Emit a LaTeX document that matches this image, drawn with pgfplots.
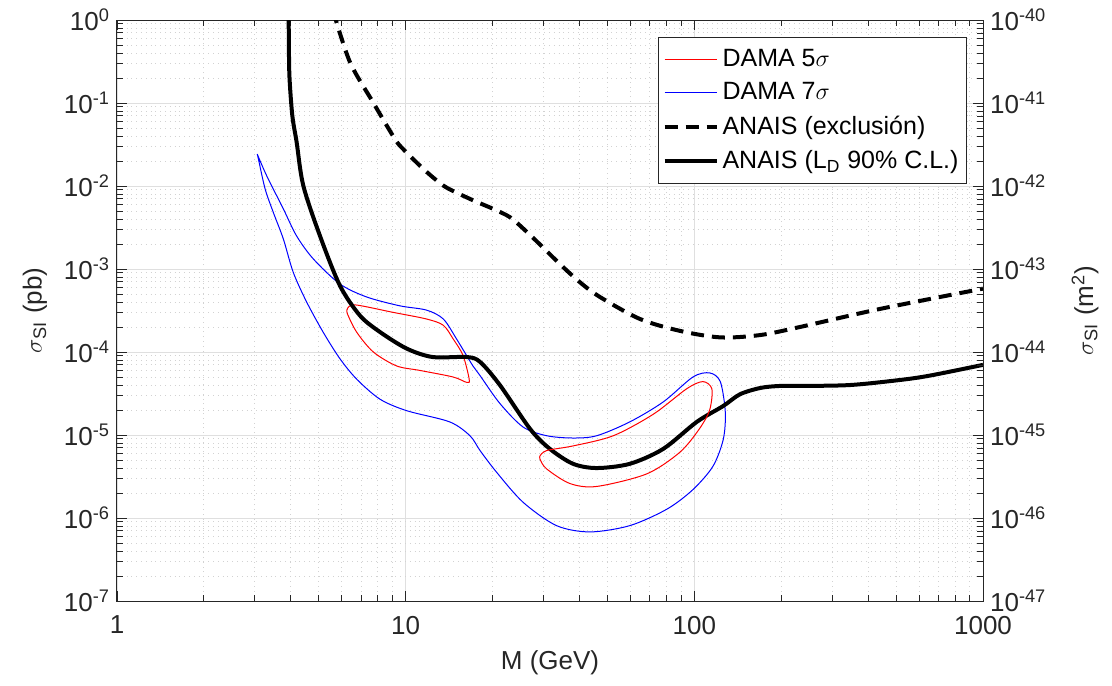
\documentclass[border=0pt]{standalone}
\usepackage{pgfplots}
\pgfplotsset{compat=1.18}
\usepackage{fontspec}
\setmainfont{Liberation Sans}
\definecolor{axgray}{RGB}{38,38,38}
\begin{document}
\begin{tikzpicture}
\pgfplotsset{
  every axis/.append style={
    scale only axis, width=433pt, height=290.5pt,
    ymode=log, xmode=log,
    axis line style={axgray, line width=0.5pt},
    every tick/.style={axgray, line width=0.4pt},
    tick label style={font=\fontsize{13}{15}\selectfont, text=axgray},
    label style={font=\fontsize{13}{15}\selectfont, text=axgray},
    major tick length=5pt, minor tick length=2.8pt,
    tick align=inside,
  }
}
\begin{axis}[
  xmin=1, xmax=1000, ymin=1e-7, ymax=1,
  xtick={1,10,100,1000}, xticklabels={1,10,100,1000},
  xticklabel style={yshift=-4pt},
  ytick={1e-7,1e-6,1e-5,1e-4,1e-3,1e-2,1e-1,1},
  yticklabels={10\textsuperscript{-7},10\textsuperscript{-6},10\textsuperscript{-5},10\textsuperscript{-4},10\textsuperscript{-3},10\textsuperscript{-2},10\textsuperscript{-1},10\textsuperscript{0}},
  xtick pos=both, ytick pos=left,
  grid=both,
  major grid style={gray!25, line width=0.4pt},
  minor grid style={gray!35, dotted, line width=0.4pt},
  xlabel={M (GeV)},
  ylabel={$\sigma$\textsubscript{SI} (pb)},
  xlabel style={at={(axis description cs:0.5,-0.107)}, anchor=center},
  ylabel style={at={(axis description cs:-0.0947,0.5)}, anchor=center},
  legend style={at={(rel axis cs:0.9815,0.9707)}, anchor=north east, draw=axgray, line width=0.5pt,
    font=\fontsize{12.5}{14}\selectfont, text=black, row sep=2.5pt, inner xsep=2pt, inner ysep=4pt,
    nodes={inner xsep=2pt}},
  legend cell align=left,
  legend image code/.code={\draw[#1] (0pt,0pt) -- (26pt,0pt);},
]
% DAMA 5 sigma (left island)
\addplot[red, line width=0.5pt, smooth, tension=0.5] coordinates {
(6.28,3.3e-4)(6.67,3.7e-4)(9.06,3.0e-4)(11.8,2.5e-4)(13.5,2.1e-4)(14.6,1.44e-4)(15.8,9.1e-5)(16.6,4.7e-5)(16.3,4.3e-5)(14.6,5.0e-5)(11.2,6.0e-5)(9.3,6.8e-5)(7.73,1.0e-4)(6.77,1.73e-4)(6.28,2.9e-4)(6.28,3.3e-4)
};
\addlegendentry{DAMA 5$\sigma$}
% DAMA 7 sigma
\addplot[blue, line width=0.5pt, smooth, tension=0.5] coordinates {
(3.06,0.0243)(3.30,0.0133)(3.77,5.3e-3)(4.19,2.5e-3)(4.79,1.32e-3)(5.92,6.6e-4)(7.33,4.6e-4)(9.55,3.6e-4)(11.8,3.2e-4)(13.5,2.5e-4)(15.0,1.44e-4)(17.1,6.8e-5)(18.1,5.2e-5)(21.2,2.4e-5)(25.5,1.25e-5)(30.8,9.8e-6)(38,9.2e-6)(45.9,9.8e-6)(59.8,1.44e-5)(78,2.5e-5)(98.9,5.0e-5)(113,5.6e-5)(123,4.4e-5)(128,1.9e-5)(126,8.9e-6)(116,4.2e-6)(98.9,2.2e-6)(80.4,1.28e-6)(59.8,8.1e-7)(43.5,6.8e-7)(33.3,8.1e-7)(25.5,1.55e-6)(20.6,3.6e-6)(18.1,6.5e-6)(16.7,9.8e-6)(14.2,1.44e-5)(10.1,1.96e-5)(8.15,2.7e-5)(6.77,4.7e-5)(5.92,8.3e-5)(5.18,1.73e-4)(4.54,4.0e-4)(4.08,9.1e-4)(3.77,2.3e-3)(3.48,4.8e-3)(3.26,9.2e-3)(3.09,0.0211)(3.06,0.0243)
};
\addlegendentry{DAMA 7$\sigma$}
% ANAIS exclusion
\addplot[black, line width=2pt, dash pattern=on 6.5pt off 4pt, smooth, tension=0.5] coordinates {
(5.6,1.3)(6.41,0.312)(7.71,0.102)(9.18,0.0368)(9.8,0.0279)(11.2,0.0176)(12.5,0.0125)(13.9,0.0095)(17,0.0068)(20.1,5.3e-3)(23,4.2e-3)(26,2.9e-3)(30,1.8e-3)(34.2,1.15e-3)(40,7e-4)(47.1,4.6e-4)(64.8,2.5e-4)(89,1.8e-4)(123,1.5e-4)(169,1.6e-4)(232,2.0e-4)(439,3.3e-4)(1000,5.8e-4)
};
\addlegendentry{ANAIS (exclusión)}
% ANAIS LD
\addplot[black, line width=2pt, smooth, tension=0.5] coordinates {
(3.93,2)(3.94,0.5)(3.96,0.2)(4.05,0.07)(4.19,0.0339)(4.42,0.0101)(5.05,2.5e-3)(5.92,6.3e-4)(6.95,2.74e-4)(8.15,1.74e-4)(10.08,1.1e-4)(12.4,8.7e-5)(16.3,8.7e-5)(18.1,7.6e-5)(21.2,4.0e-5)(27,1.18e-5)(31.6,6.8e-6)(38,4.5e-6)(45.9,4.0e-6)(59.8,4.5e-6)(78,6.8e-6)(102,1.44e-5)(126,2.24e-5)(144,3.1e-5)(170,3.7e-5)(198,3.9e-5)(232,3.9e-5)(346,4.0e-5)(515,4.6e-5)(655,5.2e-5)(1000,7.0e-5)
};
\addlegendentry{ANAIS (L\textsubscript{D} 90\% C.L.)}
% DAMA 5 sigma (right island)
\addplot[red, line width=0.5pt, smooth, tension=0.5, forget plot] coordinates {
(29.2,5.6e-6)(30.8,6.5e-6)(38.1,7.4e-6)(52.4,9.8e-6)(72.1,1.78e-5)(94,3.6e-5)(107,4.4e-5)(115,3.6e-5)(113,2.0e-5)(104,1.18e-5)(89.1,6.2e-6)(68.4,3.4e-6)(45.9,2.4e-6)(37.1,2.6e-6)(30.8,3.9e-6)(29.2,5.1e-6)(29.2,5.6e-6)
};
\end{axis}
\begin{axis}[
  xmin=1, xmax=1000, ymin=1e-47, ymax=1e-40,
  hide x axis, axis y line*=right, ytick pos=right,
  ytick={1e-47,1e-46,1e-45,1e-44,1e-43,1e-42,1e-41,1e-40},
  yticklabels={10\textsuperscript{-47},10\textsuperscript{-46},10\textsuperscript{-45},10\textsuperscript{-44},10\textsuperscript{-43},10\textsuperscript{-42},10\textsuperscript{-41},10\textsuperscript{-40}},
  ylabel={$\sigma$\textsubscript{SI} (m\textsuperscript{2})},
  ylabel style={at={(axis description cs:1.1178,0.5)}, anchor=center, rotate=0},
]
\end{axis}
\pgfresetboundingbox
\useasboundingbox (-58.5pt,-42pt) rectangle (497.5pt,300.5pt);
\end{tikzpicture}
\end{document}
